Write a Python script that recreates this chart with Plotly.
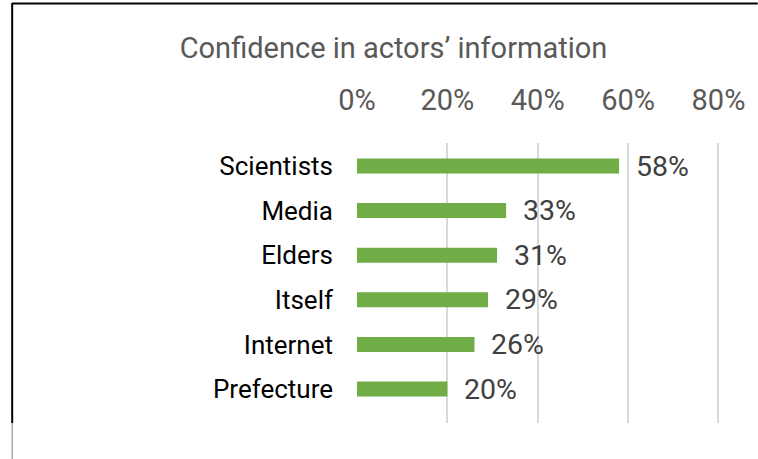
import plotly.graph_objects as go

categories = ["Scientists", "Media", "Elders", "Itself", "Internet", "Prefecture"]
values = [0.58, 0.33, 0.31, 0.29, 0.26, 0.20]
value_labels = ["58%", "33%", "31%", "29%", "26%", "20%"]
tick_vals = [0, 0.2, 0.4, 0.6, 0.8]
tick_text = ["0%", "20%", "40%", "60%", "80%"]
title_text = "Confidence in actors’ information"

W, H = 758, 459
L, T, B = 356.5, 143, 36
XMAX = 0.81
pw = (718.7 - L) * XMAX / 0.8
R = W - L - pw
ph = H - T - B

def px2x(px):
    return (px - L) / pw

def px2y(py):
    return (H - B - py) / ph

FONT = "Roboto"
fig = go.Figure()
fig.add_trace(go.Bar(
    x=values, y=categories, orientation="h",
    marker=dict(color="#70AD47", line=dict(width=0)),
    width=0.336, hoverinfo="skip",
))
for v, c, t in zip(values, categories, value_labels):
    fig.add_annotation(x=v, y=c, text=t, showarrow=False, xanchor="left",
                       xshift=15, yshift=0,
                       font=dict(family=FONT, size=28.5, color="#404040"))

fig.update_layout(
    width=W, height=H,
    margin=dict(l=L, r=R, t=T, b=B, pad=0),
    plot_bgcolor="white", paper_bgcolor="white",
    showlegend=False,
    title=dict(text=title_text, x=393.5 / W, xanchor="center",
               y=1 - 47.5 / H, yanchor="middle", yref="container",
               font=dict(family=FONT, size=29, color="#595959")),
    xaxis=dict(side="top", range=[0, XMAX], tickvals=tick_vals, ticktext=tick_text,
               showgrid=True, gridcolor="#D9D9D9", gridwidth=1.5,
               zeroline=False, showline=False, ticks="",
               ticklabelstandoff=26,
               tickfont=dict(family=FONT, size=29, color="#595959")),
    yaxis=dict(type="category", categoryorder="array", categoryarray=categories,
               range=[5.762, -0.516], showgrid=False, zeroline=False,
               showline=False, ticks="", ticklabelstandoff=23,
               tickfont=dict(family=FONT, size=26, color="#000000")),
    shapes=[
        dict(type="line", xref="paper", yref="paper", x0=px2x(11), x1=px2x(758),
             y0=px2y(3.5), y1=px2y(3.5), line=dict(color="#000000", width=2)),
        dict(type="line", xref="paper", yref="paper", x0=px2x(11), x1=px2x(11),
             y0=px2y(3), y1=px2y(423), line=dict(color="#000000", width=2)),
        dict(type="line", xref="paper", yref="paper", x0=px2x(11), x1=px2x(11),
             y0=px2y(423), y1=px2y(459), line=dict(color="#7F7F7F", width=1)),
    ],
)
fig.write_html("out.html", config={"displayModeBar": False},
               post_script="document.body.style.margin='0px';")
